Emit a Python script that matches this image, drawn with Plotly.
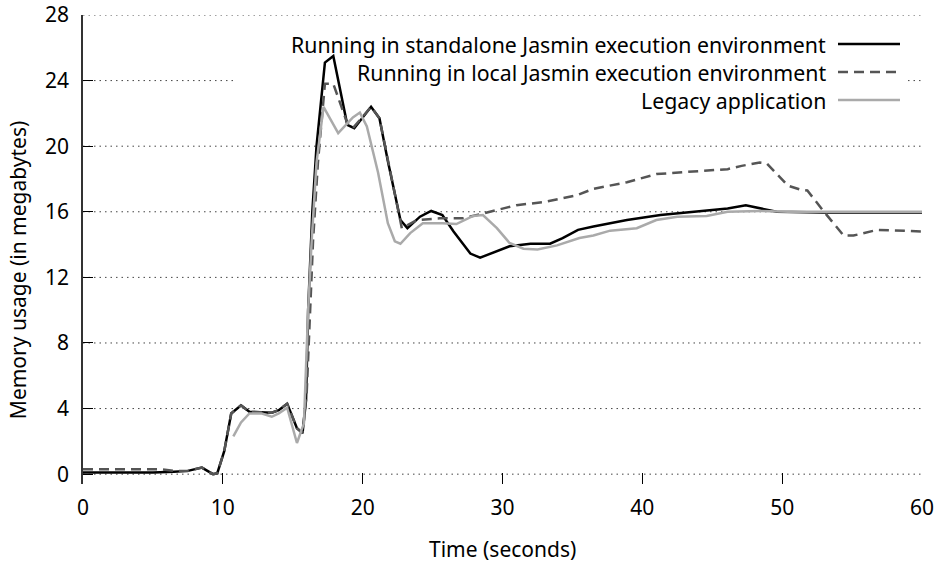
import plotly.graph_objects as go

# ---------------- data ----------------
standalone_t = [0, 5, 6.5, 7.5, 8.5, 9.3, 9.6, 10.1, 10.6, 11.3, 11.9, 12.8, 13.5, 14.0, 14.6, 15.3, 15.7,
                15.95, 16.1, 16.4, 16.7, 17.3, 17.9, 18.9, 19.4, 20.6, 21.2, 21.8, 22.7, 23.2, 24.1, 24.9,
                25.7, 26.5, 27.7, 28.4, 29.3, 30.5, 32.0, 33.4, 34.3, 35.4, 36.5, 38.9, 41.3, 44.6, 46.1,
                47.4, 48.4, 49.6, 52.9, 60]
standalone_v = [0.1, 0.1, 0.15, 0.2, 0.4, 0.0, 0.05, 1.4, 3.7, 4.2, 3.8, 3.75, 3.75, 3.9, 4.3, 2.8, 2.5,
                4.5, 10.0, 16.0, 20.0, 25.1, 25.5, 21.3, 21.1, 22.4, 21.7, 19.1, 15.5, 15.0, 15.7, 16.05,
                15.8, 14.8, 13.45, 13.2, 13.5, 13.9, 14.05, 14.05, 14.4, 14.9, 15.1, 15.5, 15.8, 16.05, 16.2,
                16.4, 16.2, 16.0, 15.95, 15.95]

local_t = [0, 5.5, 6.5, 7.5, 8.5, 9.3, 9.6, 10.1, 10.6, 11.3, 11.9, 12.8, 13.5, 14.0, 14.6, 15.3, 15.7,
           16.0, 16.2, 16.45, 16.8, 17.3, 17.9, 18.9, 19.3, 20.6, 21.2, 21.8, 22.8, 23.9, 25.5, 27.2,
           28.6, 30.0, 31.0, 33.0, 35.3, 36.5, 38.9, 41.0, 42.5, 46.1, 47.1, 48.4, 48.9, 50.4, 51.3,
           51.8, 52.9, 54.4, 55.1, 56.8, 60]
local_v = [0.3, 0.3, 0.2, 0.2, 0.4, 0.0, 0.05, 1.4, 3.7, 4.2, 3.8, 3.75, 3.75, 3.9, 4.3, 2.8, 2.5,
           5.0, 9.5, 14.2, 19.0, 23.8, 23.8, 21.4, 21.1, 22.4, 21.7, 19.1, 15.0, 15.5, 15.6, 15.6,
           15.9, 16.2, 16.4, 16.6, 17.0, 17.4, 17.8, 18.3, 18.4, 18.6, 18.8, 19.0, 18.95, 17.6, 17.35,
           17.3, 16.1, 14.55, 14.55, 14.9, 14.8]

legacy_t = [10.75, 11.3, 11.9, 12.8, 13.5, 14.0, 14.6, 15.3, 15.8, 16.1, 16.35, 16.7, 17.2, 18.25,
            19.3, 19.8, 20.3, 21.1, 21.8, 22.3, 22.7, 23.4, 24.3, 25.7, 26.7, 27.9, 28.6, 29.6, 30.5,
            31.5, 32.5, 33.9, 35.5, 36.5, 37.7, 39.6, 41.0, 42.5, 44.6, 46.1, 48.4, 50.4, 60]
legacy_v = [2.3, 3.15, 3.7, 3.7, 3.5, 3.7, 4.05, 1.9, 3.1, 10.0, 14.2, 19.0, 22.4, 20.8,
            21.75, 22.05, 21.2, 18.4, 15.3, 14.2, 14.05, 14.7, 15.3, 15.3, 15.25, 15.75, 15.8, 15.0, 14.1,
            13.75, 13.7, 13.95, 14.4, 14.55, 14.85, 15.0, 15.5, 15.7, 15.75, 16.0, 16.05, 16.0, 16.0]

series_names = ["Running in standalone Jasmin execution environment",
                "Running in local Jasmin execution environment",
                "Legacy application"]

y_ticks = [0, 4, 8, 12, 16, 20, 24, 28]
x_ticks = [0, 10, 20, 30, 40, 50, 60]

# ---------------- layout helpers ----------------
W, H = 939, 562
L, R = 83, 922          # plot area x pixels
T, B = 15, 483.7        # plot area y pixels
FONT = "Noto Sans"
FS = 21

def px(xp):
    return (xp - L) / (R - L)

def py(yp):
    return (B - yp) / (B - T)

colors = ["#000000", "#555555", "#aaaaaa"]
dashes = ["solid", "10px,6px", "solid"]

fig = go.Figure()
for t, v, name, c, d in zip([standalone_t, local_t, legacy_t],
                            [standalone_v, local_v, legacy_v],
                            series_names, colors, dashes):
    fig.add_trace(go.Scatter(x=t, y=v, mode="lines", name=name,
                             line=dict(color=c, width=2.5, dash=d), showlegend=False))

shapes = []
# dotted horizontal grid lines at the y ticks
for yv in y_ticks:
    shapes.append(dict(type="line", xref="paper", yref="y", x0=0, x1=1, y0=yv, y1=yv,
                       line=dict(color="#444444", width=1, dash="1.5px,4px"), layer="below"))
# white legend background (covers grid, not the data)
shapes.append(dict(type="rect", xref="paper", yref="paper", x0=px(235), x1=px(905), y0=py(118), y1=py(28),
                   fillcolor="white", line=dict(width=0), layer="below"))

annotations = []
rows = [44, 72, 100]
for name, c, d, ry in zip(series_names, colors, dashes, rows):
    annotations.append(dict(xref="paper", yref="paper", x=px(828), y=py(ry), text=name, showarrow=False,
                            xanchor="right", yanchor="middle", font=dict(family=FONT, size=21.3, color="black")))
    shapes.append(dict(type="line", xref="paper", yref="paper", x0=px(838), x1=px(900), y0=py(ry), y1=py(ry),
                       line=dict(color=c, width=2.5, dash=d), layer="above"))

annotations.append(dict(xref="paper", yref="paper", x=px(502), y=py(549), text="Time (seconds)",
                        showarrow=False, xanchor="center", yanchor="middle",
                        font=dict(family=FONT, size=FS, color="black")))
annotations.append(dict(xref="paper", yref="paper", x=px(18), y=py(270), text="Memory usage (in megabytes)",
                        showarrow=False, xanchor="center", yanchor="middle", textangle=-90,
                        font=dict(family=FONT, size=FS, color="black")))

fig.update_layout(
    width=W, height=H,
    margin=dict(l=L, r=W - R, t=T, b=H - B, pad=0, autoexpand=False),
    paper_bgcolor="white", plot_bgcolor="white",
    font=dict(family=FONT, size=FS, color="black"),
    shapes=shapes, annotations=annotations,
    xaxis=dict(range=[0, 60], tickvals=x_ticks, ticktext=[str(v) for v in x_ticks],
               showgrid=False, zeroline=False, showline=False, automargin=False,
               ticks="inside", ticklen=11, tickwidth=1, tickcolor="black",
               ticklabelstandoff=9, tickfont=dict(family=FONT, size=FS, color="black")),
    yaxis=dict(range=[-0.6, 28], tickvals=y_ticks, ticktext=[str(v) for v in y_ticks],
               showgrid=False, zeroline=False, showline=True, linecolor="#333333", linewidth=1.5,
               automargin=False,
               ticks="inside", ticklen=10, tickwidth=1, tickcolor="black",
               ticklabelstandoff=8, tickfont=dict(family=FONT, size=FS, color="black")),
)

fig.write_html("out.html", config={"displayModeBar": False},
               post_script="document.body.style.margin='0px';document.body.style.overflow='hidden';")
